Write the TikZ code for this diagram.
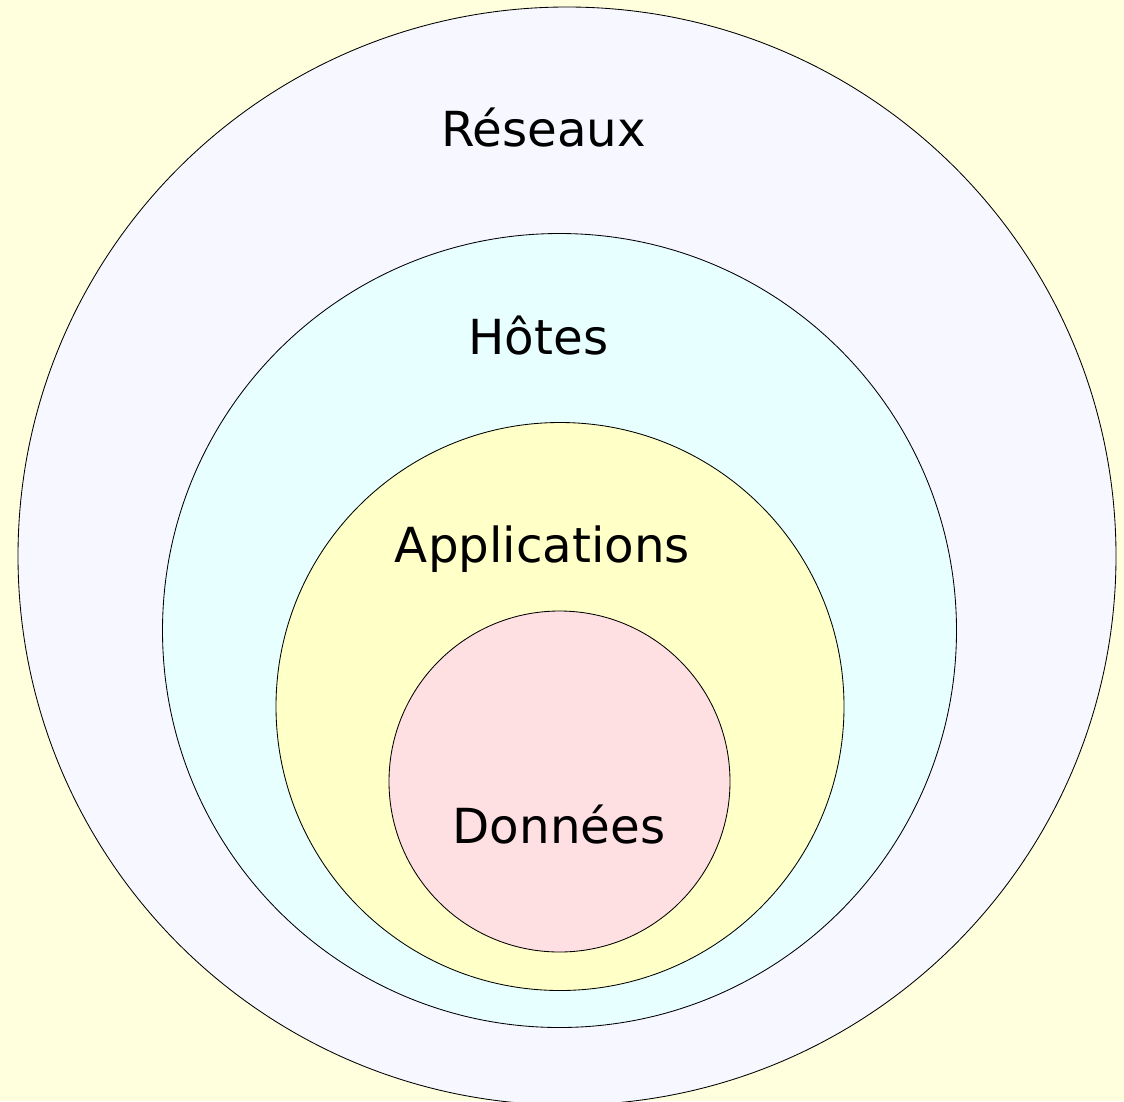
\documentclass[tikz,border=0pt]{standalone}
\usepackage{fontspec}
\setmainfont{DejaVu Sans}
\definecolor{bgc}{RGB}{255,255,222}
\definecolor{netc}{RGB}{247,247,255}
\definecolor{hostc}{RGB}{232,255,255}
\definecolor{appc}{RGB}{255,255,200}
\definecolor{datac}{RGB}{255,224,226}
\tikzset{
  ring/.style={draw=black, line width=0.85pt},
  lbl/.style={anchor=base, inner sep=0pt, font=\fontsize{48.3}{58}\selectfont}
}
\begin{document}
\begin{tikzpicture}[x=1pt,y=-1pt]
\useasboundingbox (0,0) rectangle (1124,1101);
\fill[bgc] (0,0) rectangle (1124,1101);
\begin{scope}
\clip (0,0) rectangle (1124,1101);
\draw[ring, fill=netc] (567,556) circle[radius=549];
\draw[ring, fill=hostc] (559.5,630.5) circle[radius=397];
\draw[ring, fill=appc] (560,706.5) circle[radius=284];
\draw[ring, fill=datac] (559.5,781.5) circle[radius=170.5];
\end{scope}
\node[lbl] (net) at (543.5,146) {Réseaux};
\node[lbl] (host) at (538.5,354) {Hôtes};
\node[lbl] (app) at (542.5,562) {Applications};
\node[lbl] (data) at (559,843) {Données};
\end{tikzpicture}
\end{document}
